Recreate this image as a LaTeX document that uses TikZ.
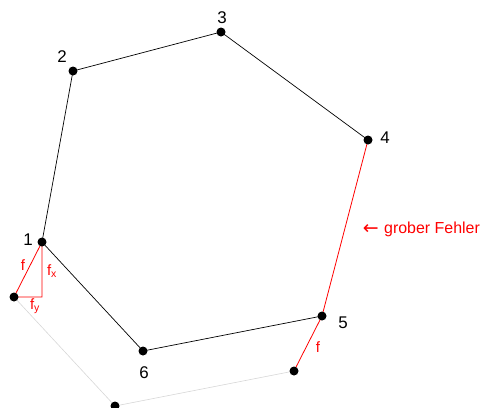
\documentclass[tikz,border=0pt]{standalone}
\usepackage{fontspec}
\setmainfont{Liberation Sans}
\newfontfamily\arrowfont{DejaVu Sans}
\usetikzlibrary{calc}
\definecolor{errred}{RGB}{255,0,0}
\definecolor{ghostgray}{RGB}{215,215,215}

\begin{document}
\begin{tikzpicture}[x=1bp,y=-1bp,font=\fontsize{17}{20}\selectfont,
    pt/.style={circle,fill=black,inner sep=0pt,minimum size=9bp},
    lab/.style={inner sep=1bp},
    flab/.style={text=errred,font=\fontsize{15}{17}\selectfont,inner sep=1bp}]
    \useasboundingbox (0,0) rectangle (480,407);
    % polygon points
    \coordinate (p1) at (42,242);
    \coordinate (p2) at (73,71);
    \coordinate (p3) at (221,32);
    \coordinate (p4) at (368,140);
    \coordinate (p5) at (322,316);
    \coordinate (p6) at (143,351);
    % shifted points
    \coordinate (q1) at (14,297);
    \coordinate (q5) at (294,371);
    \coordinate (q6) at (115,406);
    \coordinate (fc) at (42,297);
    % shifted polygon
    \draw[ghostgray,line width=.6bp] (q1) -- (q6) -- (q5);
    % polygon
    \draw[line width=.7bp] (p4) -- (p3) -- (p2) -- (p1) -- (p6) -- (p5);
    \draw[errred,line width=.8bp] (p4) -- (p5) -- (q5);
    % error triangle
    \draw[errred,line width=.8bp] (p1) -- (q1) -- (fc) -- cycle;
    % dots
    \foreach \p in {p1,p2,p3,p4,p5,p6,q1,q5,q6}
      \node[pt] at (\p) {};
    % labels
    \node[lab] at (28,240) {1};
    \node[lab] at (62,57) {2};
    \node[lab] at (222,18) {3};
    \node[lab] at (385,138) {4};
    \node[lab] at (343,323) {5};
    \node[lab] at (144,373) {6};
    \node[flab] at (23,265) {f};
    \node[flab] at (52,271) {f\textsubscript{x}};
    \node[flab] at (35,306) {f\textsubscript{y}};
    \node[flab] at (318,347) {f};
    \node[text=errred,anchor=west,inner sep=0pt] (err) at (384,229)
      {\fontsize{16}{18}\selectfont grober Fehler};
    \node[text=errred,anchor=east,inner sep=0pt] at ([xshift=-5bp]err.west)
      {\fontsize{19}{18}\selectfont\arrowfont\symbol{"2190}};
\end{tikzpicture}
\end{document}
